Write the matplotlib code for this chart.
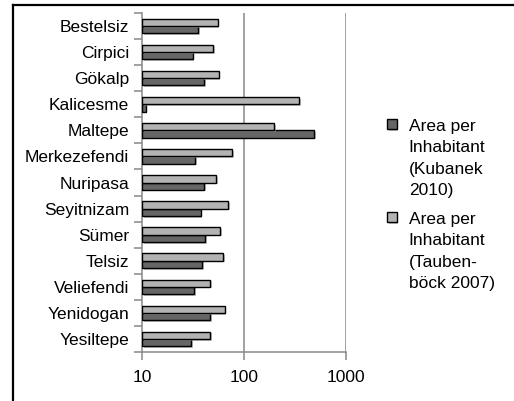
import matplotlib
matplotlib.use("Agg")
import matplotlib.pyplot as plt
import matplotlib.patheffects as pe
from matplotlib.lines import Line2D
import numpy as np

plt.rcParams['font.family'] = ['Liberation Sans', 'DejaVu Sans']

districts = ["Bestelsiz", "Cirpici", "Gökalp", "Kalicesme", "Maltepe", "Merkezefendi",
             "Nuripasa", "Seyitnizam", "Sümer", "Telsiz", "Veliefendi", "Yenidogan", "Yesiltepe"]
kubanek_2010 = [35.7, 31.5, 40.4, 10.9, 486, 33.4, 40.4, 37.7, 41.6, 39.1, 32.4, 46.9, 30.5]
taubenboeck_2007 = [55, 50.2, 56.6, 346, 197, 77, 53.7, 70.4, 58.4, 62.5, 46.9, 64.4, 46.9]
x_ticks = [10, 100, 1000]
x_tick_labels = ["10", "100", "1000"]
label_kub = "Area per\nInhabitant\n(Kubanek\n2010)"
label_tau = "Area per\nInhabitant\n(Tauben-\nböck 2007)"

W, H = 514, 401
FS = 12.5
fig = plt.figure(figsize=(W / 100, H / 100), dpi=100)
ax = fig.add_axes([142 / W, 1 - 352 / H, (346 - 142) / W, (352 - 13) / H])

base = 10
y = np.arange(len(districts))
h = 0.28
shadow = [pe.SimplePatchShadow(offset=(1.2, -1.2), shadow_rgbFace='#999999', alpha=0.6), pe.Normal()]
b1 = ax.barh(y + h / 2, np.array(kubanek_2010) - base, left=base, height=h,
             color='#666666', edgecolor='black', linewidth=1.0, label=label_kub, zorder=3)
b2 = ax.barh(y - h / 2, np.array(taubenboeck_2007) - base, left=base, height=h,
             color='#b3b3b3', edgecolor='black', linewidth=1.0, label=label_tau, zorder=3)
for b in list(b1) + list(b2):
    b.set_path_effects(shadow)

ax.set_xscale('log')
ax.set_xlim(10, 1000)
ax.set_ylim(len(districts) - 0.5, -0.5)

ax.set_xticks(x_ticks)
ax.set_xticklabels(x_tick_labels)
ax.xaxis.set_minor_locator(matplotlib.ticker.NullLocator())
ax.tick_params(axis='x', which='major', length=5.8, width=1.1, color='#888888',
               labelsize=FS, pad=7)

ax.set_yticks(np.arange(len(districts) + 1) - 0.5)
ax.set_yticklabels([])
ax.set_yticks(y, minor=True)
ax.set_yticklabels(districts, minor=True)
ax.tick_params(axis='y', which='major', length=5.8, width=1.1, color='#888888')
ax.tick_params(axis='y', which='minor', length=0, labelsize=FS, pad=9.4)

for s in ['top', 'right']:
    ax.spines[s].set_visible(False)
for s in ['left', 'bottom']:
    ax.spines[s].set_color('#888888')
    ax.spines[s].set_linewidth(1.1)

for xv in [100, 1000]:
    ax.axvline(xv, color='#888888', linewidth=1.1, zorder=1)

leg = fig.legend(handles=[b1, b2], labels=[label_kub, label_tau], loc='center left',
                 bbox_to_anchor=(387 / W, 1 - 205 / H), frameon=False, fontsize=FS,
                 handlelength=0.55, handleheight=0.55, handletextpad=0.7,
                 borderpad=0, borderaxespad=0, labelspacing=0.75)
for t in leg.get_texts():
    t.set_linespacing(1.55)
try:
    for col in leg._legend_handle_box.get_children():
        for hp in col.get_children():
            hp.align = "top"
except Exception:
    pass

# outer frame
fig.add_artist(Line2D([12.5 / W, 1], [1 - 4.5 / H, 1 - 4.5 / H], color='black', linewidth=1.6,
                      transform=fig.transFigure))
fig.add_artist(Line2D([12.5 / W, 12.5 / W], [0, 1 - 4.5 / H], color='black', linewidth=1.6,
                      transform=fig.transFigure))

fig.savefig("out.png", dpi=100)
